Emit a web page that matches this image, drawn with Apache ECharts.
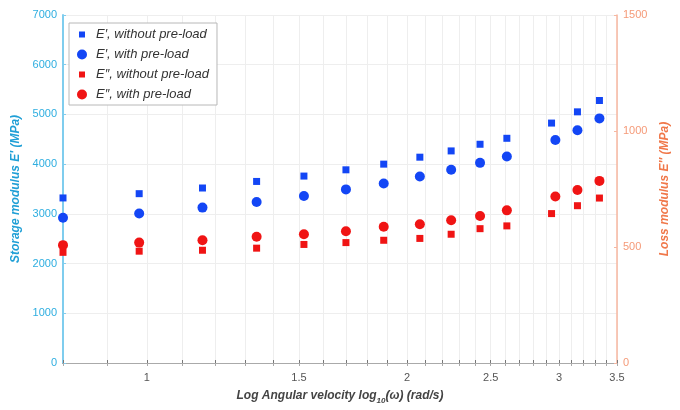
<!DOCTYPE html>
<html>
<head>
<meta charset="utf-8">
<script src="https://cdn.jsdelivr.net/npm/echarts@6/dist/echarts.min.js"></script>
<style>html,body{margin:0;padding:0;background:#fff;}#c{width:680px;height:410px;}</style>
</head>
<body>
<div id="c"></div>
<script>
// Data
var xSquare = [0.80, 0.98, 1.16, 1.34, 1.52, 1.70, 1.88, 2.07, 2.25, 2.43, 2.61, 2.94, 3.15, 3.34];
var xCircle = [0.80, 0.98, 1.16, 1.34, 1.52, 1.70, 1.88, 2.07, 2.25, 2.43, 2.61, 2.97, 3.15, 3.34];
var storageNoPreload = [3320, 3406, 3520, 3652, 3760, 3886, 4000, 4140, 4266, 4400, 4520, 4826, 5052, 5280];
var storagePreload = [2920, 3006, 3126, 3240, 3360, 3492, 3612, 3752, 3886, 4026, 4152, 4486, 4680, 4920];
var lossNoPreload = [477, 482, 486, 495, 511, 519, 529, 537, 555, 579, 591, 644, 678, 711];
var lossPreload = [508, 519, 529, 544, 555, 568, 587, 598, 615, 634, 658, 718, 746, 785];
var xTickLabels = [1, 1.5, 2, 2.5, 3, 3.5];
var xMinorTicks = [0.8, 0.9, 1, 1.1, 1.2, 1.3, 1.4, 1.5, 1.6, 1.7, 1.8, 1.9, 2, 2.1, 2.2, 2.3, 2.4, 2.5, 2.6, 2.7, 2.8, 2.9, 3, 3.1, 3.2, 3.3, 3.4, 3.5];
var seriesNames = ['E\u2032, without pre-load', 'E\u2032, with pre-load', 'E\u2033, without pre-load', 'E\u2033, with pre-load'];

function pairs(xs, ys) { return xs.map(function (x, i) { return [x, ys[i]]; }); }

var blue = '#1346f5', red = '#f01414';
var cyan = '#2eaee0', salmon = '#f59a78';
var chart = echarts.init(document.getElementById('c'));
chart.setOption({
  animation: false,
  backgroundColor: '#fff',
  grid: { left: 63, right: 63, top: 15, bottom: 45, containLabel: false },
  legend: {
    orient: 'vertical', left: 69, top: 23,
    padding: [5, 8, 4, 8], itemGap: 7, itemWidth: 10, itemHeight: 12,
    backgroundColor: '#fff', borderColor: '#b8b8b8', borderWidth: 1, borderRadius: 0,
    textStyle: { fontFamily: 'Liberation Sans', fontStyle: 'italic', fontSize: 13, color: '#333', padding: [0, 0, 0, 4] },
    data: [
      { name: seriesNames[0], icon: 'path://M0,0ZM10,10ZM2,2L8,2L8,8L2,8Z' },
      { name: seriesNames[1], icon: 'circle' },
      { name: seriesNames[2], icon: 'path://M0,0ZM10,10ZM2,2L8,2L8,8L2,8Z' },
      { name: seriesNames[3], icon: 'circle' }
    ]
  },
  xAxis: [{
    type: 'log', logBase: 10, min: 0.8, max: 3.5,
    name: '{b|Log Angular velocity log}{s|10}{b|(\u03c9) (rad/s)}',
    nameLocation: 'middle', nameGap: 24,
    nameTextStyle: { rich: {
      b: { fontFamily: 'Liberation Sans', fontStyle: 'italic', fontWeight: 'bold', fontSize: 12, color: '#444' },
      s: { fontFamily: 'Liberation Sans', fontStyle: 'italic', fontWeight: 'bold', fontSize: 8, color: '#444', verticalAlign: 'top', padding: [10, 0, 0, 0] }
    } },
    axisLine: { show: true, lineStyle: { color: '#777', width: 1 } },
    axisTick: { show: true, inside: true, length: 3, customValues: xMinorTicks, lineStyle: { color: '#777' } },
    axisLabel: { show: true, customValues: xTickLabels, margin: 9, fontFamily: 'Liberation Sans', fontSize: 11, color: '#555',
      formatter: function (v) { return String(Math.round(v * 10) / 10); } },
    splitLine: { show: true, lineStyle: { color: '#eeeeee', width: 1 } },
    minorTick: { show: false }
  }, {
    type: 'log', logBase: 10, min: 0.8, max: 3.5, position: 'top',
    axisLine: { show: true, lineStyle: { color: '#aaa', width: 1 } },
    axisTick: { show: true, inside: true, length: 3, customValues: xMinorTicks, lineStyle: { color: '#aaa' } },
    axisLabel: { show: false },
    splitLine: { show: false }
  }],
  yAxis: [{
    type: 'value', min: 0, max: 7000, interval: 1000, position: 'left',
    name: 'Storage modulus E\u2032 (MPa)', nameLocation: 'middle', nameGap: 38, nameRotate: 90,
    nameTextStyle: { fontFamily: 'Liberation Sans', fontStyle: 'italic', fontWeight: 'bold', fontSize: 12, color: '#1f9fd6' },
    axisLine: { show: true, lineStyle: { color: '#7fcdee', width: 2 } },
    axisTick: { show: true, inside: true, length: 3, lineStyle: { color: '#7fcdee' } },
    axisLabel: { margin: 6, fontFamily: 'Liberation Sans', fontSize: 11, color: cyan, formatter: function (v) { return String(v); } },
    splitLine: { show: true, lineStyle: { color: '#eeeeee', width: 1 } }
  }, {
    type: 'value', min: 0, max: 1500, interval: 500, position: 'right',
    name: 'Loss modulus E\u2033 (MPa)', nameLocation: 'middle', nameGap: 38, nameRotate: 90,
    nameTextStyle: { fontFamily: 'Liberation Sans', fontStyle: 'italic', fontWeight: 'bold', fontSize: 12, color: '#f0784a' },
    axisLine: { show: true, lineStyle: { color: '#f7b7a0', width: 1.5 } },
    axisTick: { show: true, inside: true, length: 3, lineStyle: { color: '#f7b7a0' } },
    axisLabel: { margin: 6, fontFamily: 'Liberation Sans', fontSize: 11, color: salmon, formatter: function (v) { return String(v); } },
    splitLine: { show: false }
  }],
  series: [
    { name: seriesNames[0], type: 'scatter', xAxisIndex: 0, yAxisIndex: 0, symbol: 'rect', symbolSize: 7,
      itemStyle: { color: blue, opacity: 1 }, data: pairs(xSquare, storageNoPreload) },
    { name: seriesNames[1], type: 'scatter', xAxisIndex: 0, yAxisIndex: 0, symbol: 'circle', symbolSize: 10,
      itemStyle: { color: blue, opacity: 1 }, data: pairs(xCircle, storagePreload) },
    { name: seriesNames[2], type: 'scatter', xAxisIndex: 0, yAxisIndex: 1, symbol: 'rect', symbolSize: 7,
      itemStyle: { color: red, opacity: 1 }, data: pairs(xSquare, lossNoPreload) },
    { name: seriesNames[3], type: 'scatter', xAxisIndex: 0, yAxisIndex: 1, symbol: 'circle', symbolSize: 10,
      itemStyle: { color: red, opacity: 1 }, data: pairs(xCircle, lossPreload) }
  ]
});
</script>
</body>
</html>
